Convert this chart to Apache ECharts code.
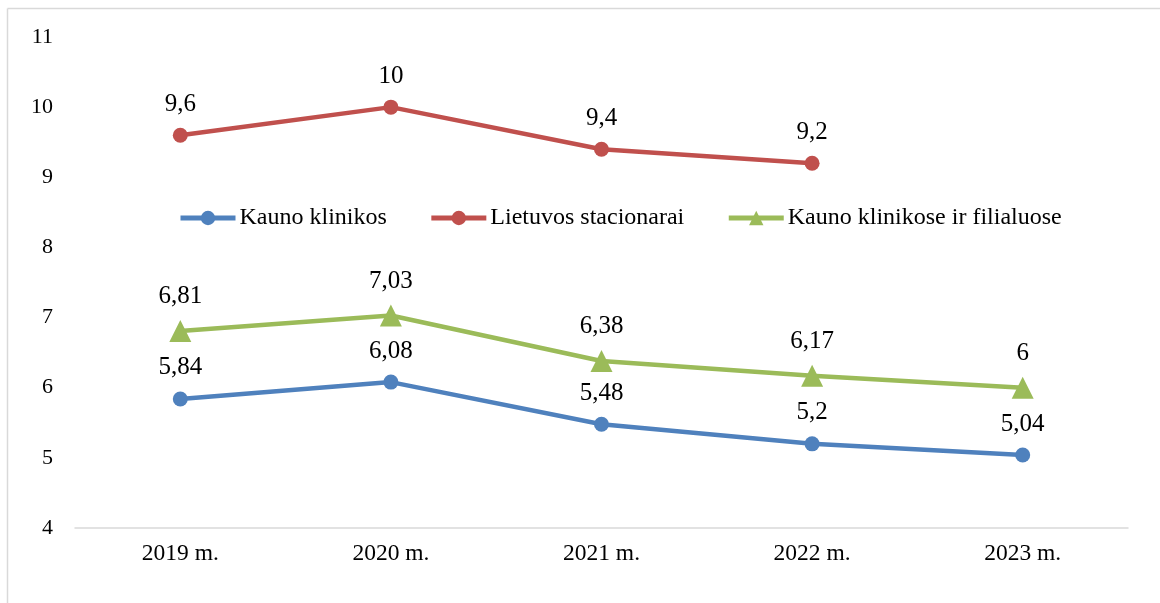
<!DOCTYPE html>
<html>
<head>
<meta charset="utf-8">
<script src="https://cdn.jsdelivr.net/npm/echarts@6/dist/echarts.min.js"></script>
<style>html,body{margin:0;padding:0;background:#fff}#c{width:1160px;height:603px}</style>
</head>
<body>
<div id="c"></div>
<script>
var categories = ['2019 m.', '2020 m.', '2021 m.', '2022 m.', '2023 m.'];
var kaunoKlinikos = [5.84, 6.08, 5.48, 5.2, 5.04];
var lietuvosStacionarai = [9.6, 10, 9.4, 9.2, null];
var kaunoFilialuose = [6.81, 7.03, 6.38, 6.17, 6];
var seriesNames = ['Kauno klinikos', 'Lietuvos stacionarai', 'Kauno klinikose ir filialuose'];

var font = '"Liberation Serif", "Times New Roman", serif';
function fmt(p){ return String(p.value).replace('.', ','); }
function mk(name, data, color, symbol, size){
  return {
    name: name, type: 'line', data: data, symbol: symbol, symbolSize: size,
    connectNulls: false,
    lineStyle: {color: color, width: 4.5},
    itemStyle: {color: color},
    label: {show: true, position: 'top', distance: 11, formatter: fmt,
      color: '#000', fontFamily: font, fontSize: 25},
    emphasis: {disabled: true}
  };
}
var chart = echarts.init(document.getElementById('c'));
chart.setOption({
  animation: false,
  backgroundColor: '#fff',
  textStyle: {fontFamily: font},
  grid: {left: 75, right: 32, top: 37, bottom: 75, containLabel: false},
  legend: {
    left: 173, top: 201, itemWidth: 55, itemHeight: 18, itemGap: 42,
    lineStyle: {width: 5},
    textStyle: {fontFamily: font, fontSize: 24, color: '#000', padding: [0,0,0,-1]},
    data: seriesNames
  },
  xAxis: {
    type: 'category', data: categories, boundaryGap: true,
    axisLine: {lineStyle: {color: '#d9d9d9', width: 1.5}},
    axisTick: {show: false},
    axisLabel: {color: '#000', fontFamily: font, fontSize: 23.5, margin: 14}
  },
  yAxis: {
    type: 'value', min: 4, max: 11, interval: 1,
    axisLine: {show: false}, axisTick: {show: false},
    splitLine: {show: false},
    axisLabel: {color: '#000', fontFamily: font, fontSize: 22, margin: 22}
  },
  graphic: [
    {type: 'line', shape: {x1: 7.5, y1: 8.5, x2: 1160, y2: 8.5}, style: {stroke: '#d9d9d9', lineWidth: 1.5}},
    {type: 'line', shape: {x1: 7.5, y1: 8.5, x2: 7.5, y2: 603}, style: {stroke: '#d9d9d9', lineWidth: 1.5}}
  ],
  series: [
    mk(seriesNames[0], kaunoKlinikos, '#4F81BD', 'circle', 15),
    mk(seriesNames[1], lietuvosStacionarai, '#C0504D', 'circle', 15),
    mk(seriesNames[2], kaunoFilialuose, '#9BBB59', 'triangle', 22)
  ]
});
</script>
</body>
</html>
